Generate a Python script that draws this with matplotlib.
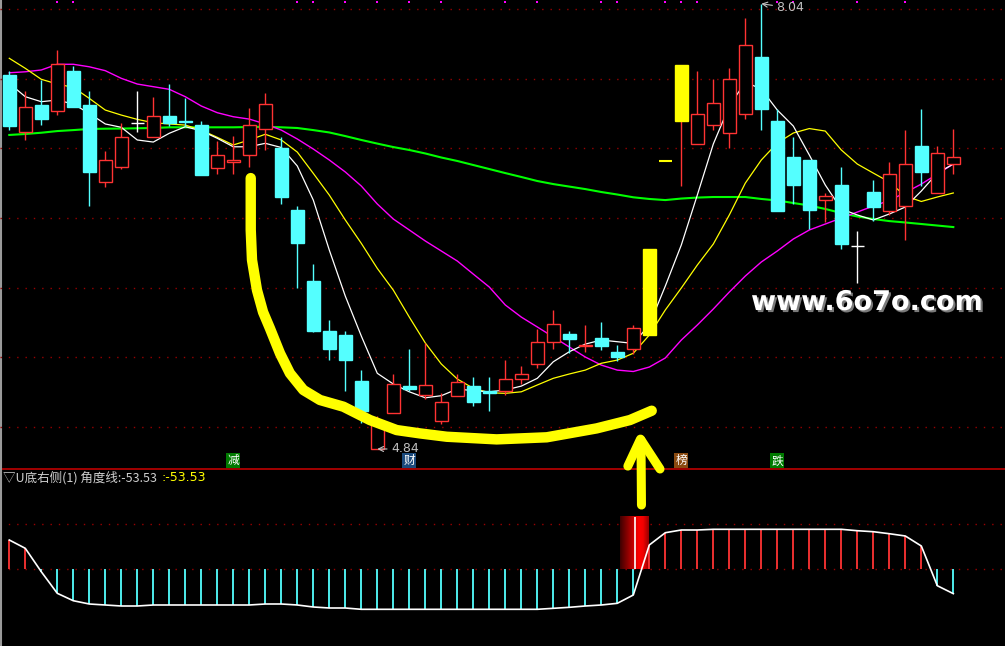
import numpy as np
import matplotlib
matplotlib.use('Agg')
import matplotlib.pyplot as plt
from matplotlib.patches import Rectangle
from matplotlib.lines import Line2D
import matplotlib.patheffects as pe

plt.rcParams['font.family'] = ['Noto Sans CJK SC', 'DejaVu Sans']

# daily candles (60 sessions)
opens = [7.53, 7.12, 7.31, 7.27, 7.56, 7.31, 6.76, 6.87, 7.18, 7.08,
         7.23, 7.20, 7.17, 6.86, 6.90, 6.95, 7.14, 7.00, 6.56, 6.05,
         5.69, 5.66, 5.33, 4.84, 5.10, 5.29, 5.23, 5.04, 5.22, 5.29,
         5.26, 5.26, 5.34, 5.45, 5.61, 5.67, 5.58, 5.64, 5.54, 5.56,
         5.66, 6.91, 7.20, 7.03, 7.17, 7.11, 7.25, 7.66, 7.20, 6.94,
         6.92, 6.63, 6.74, 6.30, 6.69, 6.55, 6.59, 7.02, 6.68, 6.89]
highs = [7.56, 7.41, 7.49, 7.71, 7.59, 7.41, 6.98, 7.18, 7.41, 7.37,
         7.46, 7.36, 7.20, 7.05, 7.09, 7.29, 7.40, 7.08, 6.59, 6.17,
         5.77, 5.69, 5.41, 5.08, 5.38, 5.56, 5.60, 5.24, 5.38, 5.36,
         5.36, 5.48, 5.44, 5.70, 5.84, 5.69, 5.73, 5.75, 5.59, 5.73,
         6.28, 6.91, 7.60, 7.56, 7.50, 7.58, 7.94, 8.04, 7.28, 7.08,
         6.92, 6.68, 6.87, 6.41, 6.77, 6.90, 7.13, 7.28, 7.02, 7.14]
lows = [7.13, 7.06, 7.17, 7.24, 7.30, 6.59, 6.72, 6.85, 7.12, 7.08,
        7.16, 7.16, 6.81, 6.82, 6.82, 6.87, 6.99, 6.60, 6.00, 5.68,
        5.48, 5.26, 5.03, 4.84, 5.10, 5.26, 5.20, 5.02, 5.22, 5.15,
        5.11, 5.23, 5.31, 5.42, 5.56, 5.53, 5.54, 5.55, 5.47, 5.52,
        5.66, 6.91, 6.73, 7.03, 7.13, 7.00, 7.21, 7.13, 6.55, 6.60,
        6.42, 6.47, 6.28, 6.03, 6.48, 6.52, 6.34, 6.73, 6.68, 6.82]
closes = [7.16, 7.30, 7.21, 7.61, 7.30, 6.83, 6.92, 7.08, 7.18, 7.23,
          7.18, 7.19, 6.81, 6.95, 6.92, 7.17, 7.32, 6.65, 6.32, 5.69,
          5.56, 5.48, 5.11, 5.02, 5.31, 5.27, 5.30, 5.18, 5.32, 5.18,
          5.24, 5.34, 5.38, 5.61, 5.74, 5.63, 5.59, 5.58, 5.50, 5.71,
          6.28, 6.91, 7.60, 7.25, 7.33, 7.50, 7.74, 7.28, 6.55, 6.74,
          6.56, 6.66, 6.31, 6.30, 6.58, 6.82, 6.89, 6.83, 6.97, 6.94]

# moving averages
ma5 = [7.468, 7.372, 7.336, 7.348, 7.319, 7.252, 7.176, 7.152, 7.061, 7.046,
       7.109, 7.156, 7.127, 7.073, 7.012, 7.012, 7.037, 7.007, 6.874, 6.629,
       6.270, 5.939, 5.652, 5.384, 5.307, 5.251, 5.208, 5.223, 5.271, 5.259,
       5.251, 5.264, 5.292, 5.348, 5.467, 5.539, 5.594, 5.623, 5.611, 5.599,
       5.731, 6.011, 6.306, 6.665, 7.032, 7.305, 7.477, 7.427, 7.276, 7.161,
       6.953, 6.737, 6.565, 6.522, 6.486, 6.529, 6.579, 6.694, 6.823, 6.888]
ma10 = [7.648, 7.576, 7.497, 7.463, 7.439, 7.360, 7.276, 7.240, 7.209, 7.185,
        7.176, 7.168, 7.132, 7.080, 7.025, 7.061, 7.102, 7.061, 6.974, 6.821,
        6.665, 6.486, 6.318, 6.138, 5.982, 5.788, 5.602, 5.451, 5.343, 5.276,
        5.244, 5.240, 5.251, 5.300, 5.348, 5.379, 5.407, 5.456, 5.479, 5.528,
        5.659, 5.839, 5.997, 6.162, 6.313, 6.522, 6.751, 6.917, 7.039, 7.111,
        7.143, 7.125, 6.989, 6.888, 6.823, 6.759, 6.658, 6.619, 6.651, 6.680]
ma20 = [7.544, 7.551, 7.564, 7.605, 7.605, 7.587, 7.559, 7.504, 7.463, 7.444,
        7.425, 7.372, 7.305, 7.257, 7.228, 7.211, 7.176, 7.132, 7.068, 6.996,
        6.917, 6.831, 6.730, 6.601, 6.493, 6.414, 6.335, 6.263, 6.191, 6.097,
        6.004, 5.875, 5.788, 5.717, 5.645, 5.573, 5.501, 5.443, 5.407, 5.397,
        5.429, 5.494, 5.623, 5.731, 5.846, 5.968, 6.083, 6.184, 6.263, 6.349,
        6.414, 6.457, 6.500, 6.543, 6.586, 6.626, 6.683, 6.744, 6.816, 6.888]
ma60 = [7.097, 7.104, 7.113, 7.125, 7.132, 7.140, 7.142, 7.143, 7.145, 7.147,
        7.152, 7.152, 7.152, 7.152, 7.152, 7.154, 7.156, 7.152, 7.147, 7.132,
        7.115, 7.089, 7.061, 7.035, 7.010, 6.989, 6.964, 6.935, 6.910, 6.881,
        6.852, 6.823, 6.795, 6.766, 6.744, 6.726, 6.708, 6.687, 6.669, 6.649,
        6.637, 6.629, 6.640, 6.647, 6.651, 6.651, 6.651, 6.637, 6.626, 6.608,
        6.590, 6.565, 6.536, 6.511, 6.493, 6.478, 6.468, 6.457, 6.446, 6.435]

# indicator "U底右侧" 角度线
angle = [64.5, 46.2, -5.3, -52.8, -69.1, -76.3, -78.5, -80.7, -80.7, -78.5,
         -78.5, -78.5, -78.5, -78.5, -78.5, -78.5, -76.3, -76.3, -78.5, -82.9,
         -85.1, -85.1, -88.0, -88.0, -88.0, -88.0, -88.0, -88.0, -88.0, -88.0,
         -88.0, -88.0, -88.0, -88.0, -85.8, -83.6, -80.7, -78.5, -74.8, -56.5,
         53.5, 80.5, 86.5, 86.5, 88.0, 88.0, 88.0, 88.0, 88.0, 88.0,
         88.0, 88.0, 88.0, 84.9, 82.7, 78.3, 73.3, 51.3, -36.1, -53.53]
signal_idx = 39
signal_height = 115

grid_prices = [5.0, 5.5, 6.0, 6.5, 7.0, 7.5, 8.0]
dot_idx = [3, 4, 18, 19, 21, 23, 25, 27, 31, 33, 37, 38, 41, 42, 43, 48, 49, 53, 56]
event_idx = [14, 25, 42, 48]
event_txt = ['减', '财', '榜', '跌']
event_bg = ['#007a00', '#1b4a7c', '#8a4a10', '#007a00']

# hand drawn U curve and arrow (index, price)
curve_i = [15.09, 15.09, 15.17, 15.48, 15.86, 16.29, 16.92, 17.54, 18.38, 19.42,
           20.88, 22.54, 24.21, 25.67, 27.34, 30.46, 33.59, 36.71, 38.79, 40.15]
curve_p = [6.787, 6.414, 6.198, 5.982, 5.824, 5.707, 5.527, 5.384, 5.264, 5.192,
           5.144, 5.048, 4.976, 4.952, 4.928, 4.909, 4.924, 4.988, 5.048, 5.115]
shaft_i = [39.51, 39.48]
shaft_p = [4.437, 4.904]
head_i = [38.66, 39.45, 40.67]
head_p = [4.717, 4.911, 4.696]

RED = '#ff3333'
CYAN = '#54ffff'
YEL = '#ffff00'
DOT = '#990000'
n = len(closes)
x = np.arange(n)
W = 0.78

fig = plt.figure(figsize=(10.05, 6.46), dpi=100, facecolor='black')
split = 176.7 / 646
ax2 = fig.add_axes([0, 0, 1, split], facecolor='black')
ax1 = fig.add_axes([0, split, 1, 1 - split])
ax1.patch.set_visible(False)
ax1.set_zorder(3)
for ax in (ax1, ax2):
    ax.set_xlim(-0.58, 62.23)
    ax.axis('off')
ax1.set_ylim(4.694, 8.067)
ax2.set_ylim(-168.7, 220)

for p in grid_prices:
    ax1.axhline(p, color=DOT, lw=1, ls=(0, (1, 5)), zorder=0)

ax1.plot(x, ma60, color='#00ff00', lw=1.5, zorder=2)
ax1.plot(x, ma20, color='#ff00ff', lw=1.0, zorder=2)
ax1.plot(x, ma10, color=YEL, lw=0.9, zorder=2)
ax1.plot(x, ma5, color='white', lw=0.9, zorder=2)

# candles
for i in range(n):
    o, h, l, c = opens[i], highs[i], lows[i], closes[i]
    limit_up = i > 0 and c >= round(closes[i - 1] * 1.1, 2) - 1e-6
    if limit_up:
        if h > l:
            ax1.vlines(i, l, h, color=RED, lw=1, zorder=3)
            ax1.add_patch(Rectangle((i - W / 2, o), W, c - o, fc=YEL, ec=YEL, lw=1, zorder=4))
        else:
            ax1.hlines(c, i - W / 2, i + W / 2, color=YEL, lw=1.5, zorder=4)
    elif c > o:
        ax1.vlines(i, l, h, color=RED, lw=1, zorder=3)
        ax1.add_patch(Rectangle((i - W / 2, o), W, c - o, fc='black', ec=RED, lw=1, zorder=4))
    elif c < o:
        ax1.vlines(i, l, h, color=CYAN, lw=1, zorder=3)
        ax1.add_patch(Rectangle((i - W / 2, c), W, o - c, fc=CYAN, ec=CYAN, lw=1, zorder=4))
    else:
        ax1.vlines(i, l, h, color='white', lw=1, zorder=3)
        ax1.hlines(c, i - W / 2, i + W / 2, color='white', lw=1, zorder=4)

# extremes
lo_i = int(np.argmin(lows))
hi_i = int(np.argmax(highs))
ax1.annotate(f'{lows[lo_i]:.2f}', xy=(lo_i, lows[lo_i]), xytext=(10, 0), textcoords='offset points',
             color='#c0c0c0', fontsize=9, family='DejaVu Sans', ha='left', va='center',
             arrowprops=dict(arrowstyle='->', color='#c0c0c0', lw=0.8, shrinkA=1, shrinkB=0), zorder=6)
ax1.annotate(f'{highs[hi_i]:.2f}', xy=(hi_i, highs[hi_i]), xytext=(11, -3), textcoords='offset points',
             color='#c0c0c0', fontsize=9, family='DejaVu Sans', ha='left', va='center',
             arrowprops=dict(arrowstyle='->', color='#c0c0c0', lw=0.8, shrinkA=1, shrinkB=0), zorder=6)

# top markers and event tags
tr = ax1.get_xaxis_transform()
ax1.plot(dot_idx, [0.9957] * len(dot_idx), 's', color='#ff00ff', ms=2, mew=0, transform=tr, zorder=5)
for k, t, bg in zip(event_idx, event_txt, event_bg):
    ax1.text(k, 0.018, t, transform=tr, color='white', fontsize=8.5, ha='center', va='center',
             bbox=dict(boxstyle='square,pad=0.08', fc=bg, ec='none'), zorder=6)

# hand drawing
ax1.plot(curve_i, curve_p, color=YEL, lw=7.5, solid_capstyle='round', solid_joinstyle='round', zorder=10)
ax1.plot(shaft_i, shaft_p, color=YEL, lw=6.5, solid_capstyle='round', clip_on=False, zorder=10)
ax1.plot(head_i, head_p, color=YEL, lw=6.5, solid_capstyle='round', solid_joinstyle='round',
         clip_on=False, zorder=10)

fig.text(867 / 1005, 1 - 303 / 646, 'www.6o7o.com', color='white', fontsize=19.5, fontweight='bold',
         family='DejaVu Sans', ha='center', va='center', zorder=10,
         path_effects=[pe.withSimplePatchShadow(offset=(1.5, -1.5), shadow_rgbFace='#7a7a7a', alpha=1)])

# lower panel
ang = np.array(angle)
cols = np.where(ang >= 0, RED, CYAN)
ax2.axhline(0, color=DOT, lw=1, ls=(0, (1, 5)), zorder=0)
ax2.axhline(100, color=DOT, lw=1, ls=(0, (1, 5)), zorder=0)
ax2.vlines(x, 0, ang, colors=cols, lw=1.3, zorder=2)
grad = np.interp(np.linspace(0, 1, 60), [0, 0.65, 0.8, 1.0], [0.25, 1.0, 0.95, 0.6])
img = np.zeros((1, 60, 3))
img[0, :, 0] = grad
ax2.imshow(img, extent=[signal_idx - 0.83, signal_idx + 0.98, 0, signal_height], aspect='auto', zorder=1)
ax2.vlines(signal_idx + 0.08, 0, signal_height, color='white', lw=1.2, zorder=3)
ax2.plot(x, ang, color='white', lw=1.2, zorder=4)

fig.text(2.7 / 1005, 1 - 477.5 / 646, f'▽U底右侧(1) 角度线:{angle[-1]:.2f}', color='#d0d0d0',
         fontsize=9, ha='left', va='center')
fig.text(161 / 1005, 1 - 477.5 / 646, f':{angle[-1]:.2f}', color=YEL, fontsize=9, ha='left', va='center',
         family='DejaVu Sans')

fig.add_artist(Line2D([0, 1], [split, split], transform=fig.transFigure, color='#b00000', lw=1.3))
fig.add_artist(Line2D([0.001, 0.001], [0, 1], transform=fig.transFigure, color='#9a9a9a', lw=1.5))

fig.savefig('out.png', dpi=100, facecolor='black')
